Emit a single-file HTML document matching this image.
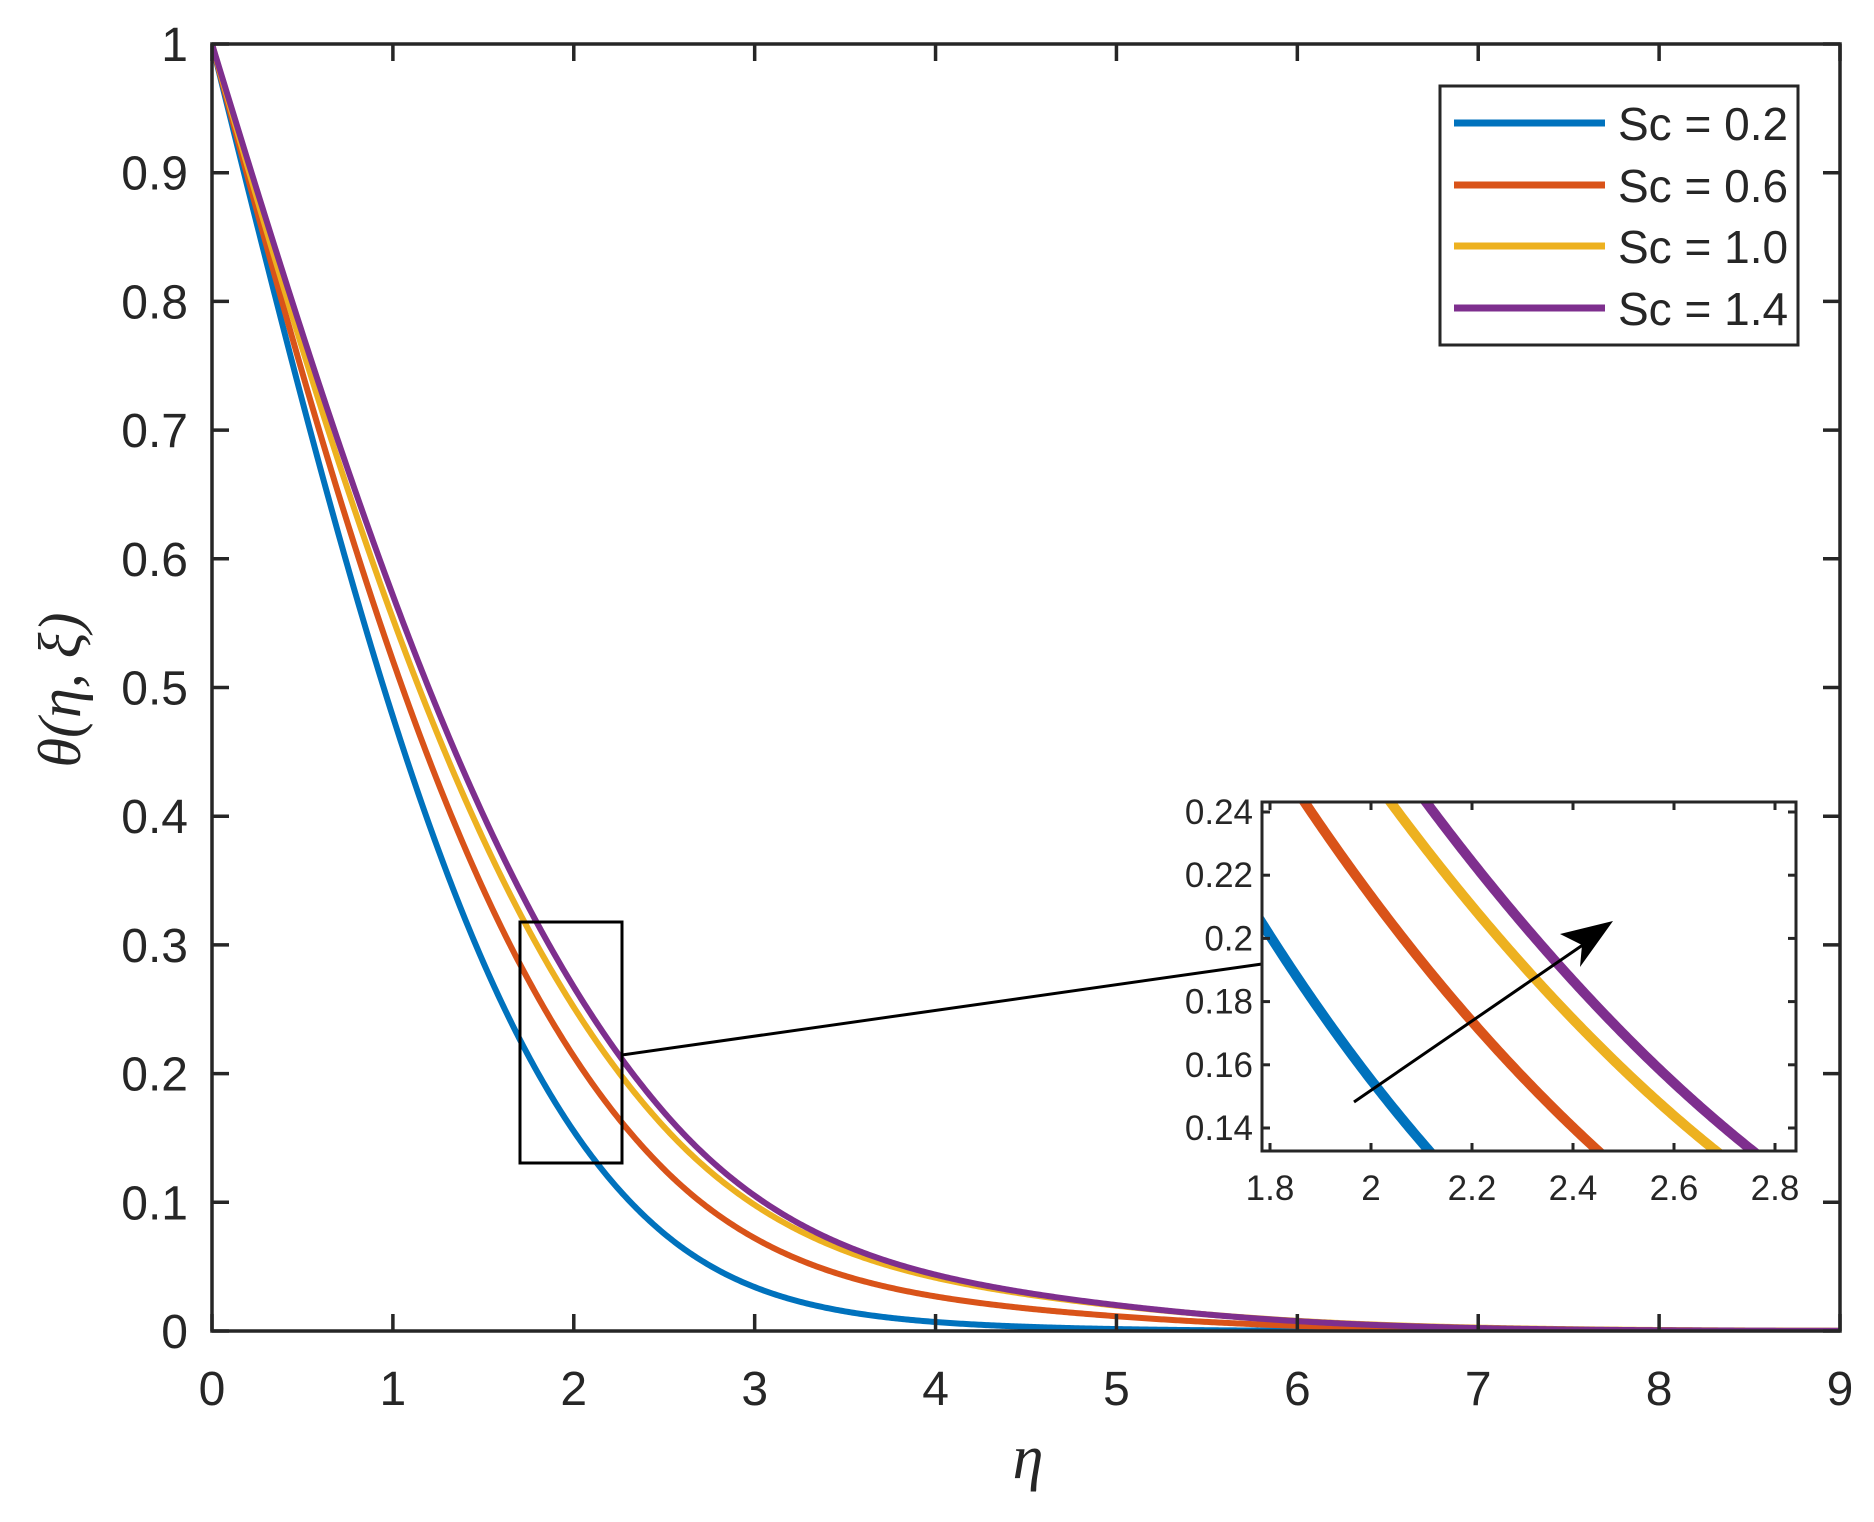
<!DOCTYPE html>
<html><head><meta charset="utf-8"><style>
html,body{margin:0;padding:0;background:#fff;}
svg{display:block;}
text{font-family:"Liberation Sans",Arial,sans-serif;fill:#262626;}
.ser{font-family:"Liberation Serif","DejaVu Serif",serif;font-style:italic;}
</style></head><body>
<svg id="s" width="1874" height="1522" viewBox="0 0 1874 1522" xmlns="http://www.w3.org/2000/svg">
<defs>
<clipPath id="mc"><rect x="212" y="30" width="1628" height="1301"/></clipPath>
<clipPath id="ic"><rect x="1262" y="802" width="534" height="349"/></clipPath>
</defs>
<rect x="0" y="0" width="1874" height="1522" fill="#fff"/>
<g id="main" clip-path="url(#mc)"></g>
<g id="axes"></g>
<rect x="520" y="922" width="102" height="241" fill="none" stroke="#000" stroke-width="3"/>
<line x1="622" y1="1055" x2="1262" y2="964" stroke="#000" stroke-width="3"/>
<rect x="1262" y="802" width="534" height="349" fill="#fff"/>
<g id="inset" clip-path="url(#ic)"></g>
<g id="iaxes"></g>
<line x1="1354" y1="1102" x2="1590" y2="940" stroke="#000" stroke-width="3"/>
<polygon points="1613,921 1560,934 1582,945 1580,967" fill="#000"/>
<rect x="1440" y="86" width="358" height="259" fill="#fff" stroke="#262626" stroke-width="3"/>
<line x1="1454" y1="123" x2="1605" y2="123" stroke="#0072BD" stroke-width="7"/>
<line x1="1454" y1="185" x2="1605" y2="185" stroke="#D95319" stroke-width="7"/>
<line x1="1454" y1="246" x2="1605" y2="246" stroke="#EDB120" stroke-width="7"/>
<line x1="1454" y1="308" x2="1605" y2="308" stroke="#7E2F8E" stroke-width="7"/>
<g style="font-size:46px">
<text x="1618" y="140" fill="#000">Sc = 0.2</text>
<text x="1618" y="202" fill="#000">Sc = 0.6</text>
<text x="1618" y="263" fill="#000">Sc = 1.0</text>
<text x="1618" y="325" fill="#000">Sc = 1.4</text>
</g>
<text class="ser" x="1028" y="1478" text-anchor="middle" style="font-size:62px">η</text>
<text class="ser" transform="translate(80,690) rotate(-90)" text-anchor="middle" style="font-size:60px">θ(η, ξ)</text>
</svg>
<script>
function erfc(x){var t=1/(1+0.3275911*x);var y=t*(0.254829592+t*(-0.284496736+t*(1.421413741+t*(-1.453152027+t*1.061405429))));return y*Math.exp(-x*x);}
var S=[
 {c:"#0072BD",a0:1.99,k:0,q:0.05},
 {c:"#D95319",a0:2.133,k:0.07,q:0.066},
 {c:"#EDB120",a0:2.307,k:0.08,q:0.068},
 {c:"#7E2F8E",a0:2.45,k:0.05,q:0.072}];
function th(s,e){var a=s.a0+s.k*e;if(e>2.5){var m=e-2.5;a+=s.q*6.25*Math.tanh(m*m/6.25);}return erfc(e/a);}
var NS="http://www.w3.org/2000/svg";
function el(p,tag,at,txt){var e=document.createElementNS(NS,tag);for(var k in at)e.setAttribute(k,at[k]);if(txt!==undefined)e.textContent=txt;p.appendChild(e);return e;}
var main=document.getElementById("main"),ins=document.getElementById("inset");
function MX(e){return 212+e*1628/9;}function MY(v){return 1331-v*1287;}
function IX(e){return 1371+(e-2)*505;}function IY(v){return 812+(0.24-v)/0.02*63.2;}
S.forEach(function(s){
 var d="";for(var i=0;i<=900;i++){var e=i*0.01;d+=(i?"L":"M")+MX(e).toFixed(2)+","+MY(th(s,e)).toFixed(2);}
 el(main,"path",{d:d,fill:"none",stroke:s.c,"stroke-width":6,"stroke-linejoin":"round"});
 var d2="";for(var i=0;i<=300;i++){var e=1.7+i*0.004;d2+=(i?"L":"M")+IX(e).toFixed(2)+","+IY(th(s,e)).toFixed(2);}
 el(ins,"path",{d:d2,fill:"none",stroke:s.c,"stroke-width":10});
});
var ax=document.getElementById("axes");
el(ax,"rect",{x:212,y:44,width:1628,height:1287,fill:"none",stroke:"#262626","stroke-width":3.5});
for(var i=0;i<=9;i++){var x=MX(i);
 el(ax,"line",{x1:x,y1:1331,x2:x,y2:1314,stroke:"#262626","stroke-width":3.5});
 el(ax,"line",{x1:x,y1:44,x2:x,y2:61,stroke:"#262626","stroke-width":3.5});
 el(ax,"text",{x:x,y:1405,"text-anchor":"middle",style:"font-size:48px"},String(i));}
for(var i=0;i<=10;i++){var y=MY(i/10);
 el(ax,"line",{x1:212,y1:y,x2:229,y2:y,stroke:"#262626","stroke-width":3.5});
 el(ax,"line",{x1:1840,y1:y,x2:1823,y2:y,stroke:"#262626","stroke-width":3.5});
 el(ax,"text",{x:188,y:y+17,"text-anchor":"end",style:"font-size:48px"},i==0?"0":(i==10?"1":"0."+i));}
var ia=document.getElementById("iaxes");
el(ia,"rect",{x:1262,y:802,width:534,height:349,fill:"none",stroke:"#262626","stroke-width":3});
["1.8","2","2.2","2.4","2.6","2.8"].forEach(function(t){var x=IX(parseFloat(t));
 el(ia,"line",{x1:x,y1:1151,x2:x,y2:1143,stroke:"#262626","stroke-width":3});
 el(ia,"line",{x1:x,y1:802,x2:x,y2:810,stroke:"#262626","stroke-width":3});
 el(ia,"text",{x:x,y:1200,"text-anchor":"middle",style:"font-size:35px"},t);});
["0.14","0.16","0.18","0.2","0.22","0.24"].forEach(function(t){var y=IY(parseFloat(t));
 el(ia,"line",{x1:1262,y1:y,x2:1270,y2:y,stroke:"#262626","stroke-width":3});
 el(ia,"line",{x1:1796,y1:y,x2:1788,y2:y,stroke:"#262626","stroke-width":3});
 el(ia,"text",{x:1253,y:y+12,"text-anchor":"end",style:"font-size:35px"},t);});
</script>
</body></html>
